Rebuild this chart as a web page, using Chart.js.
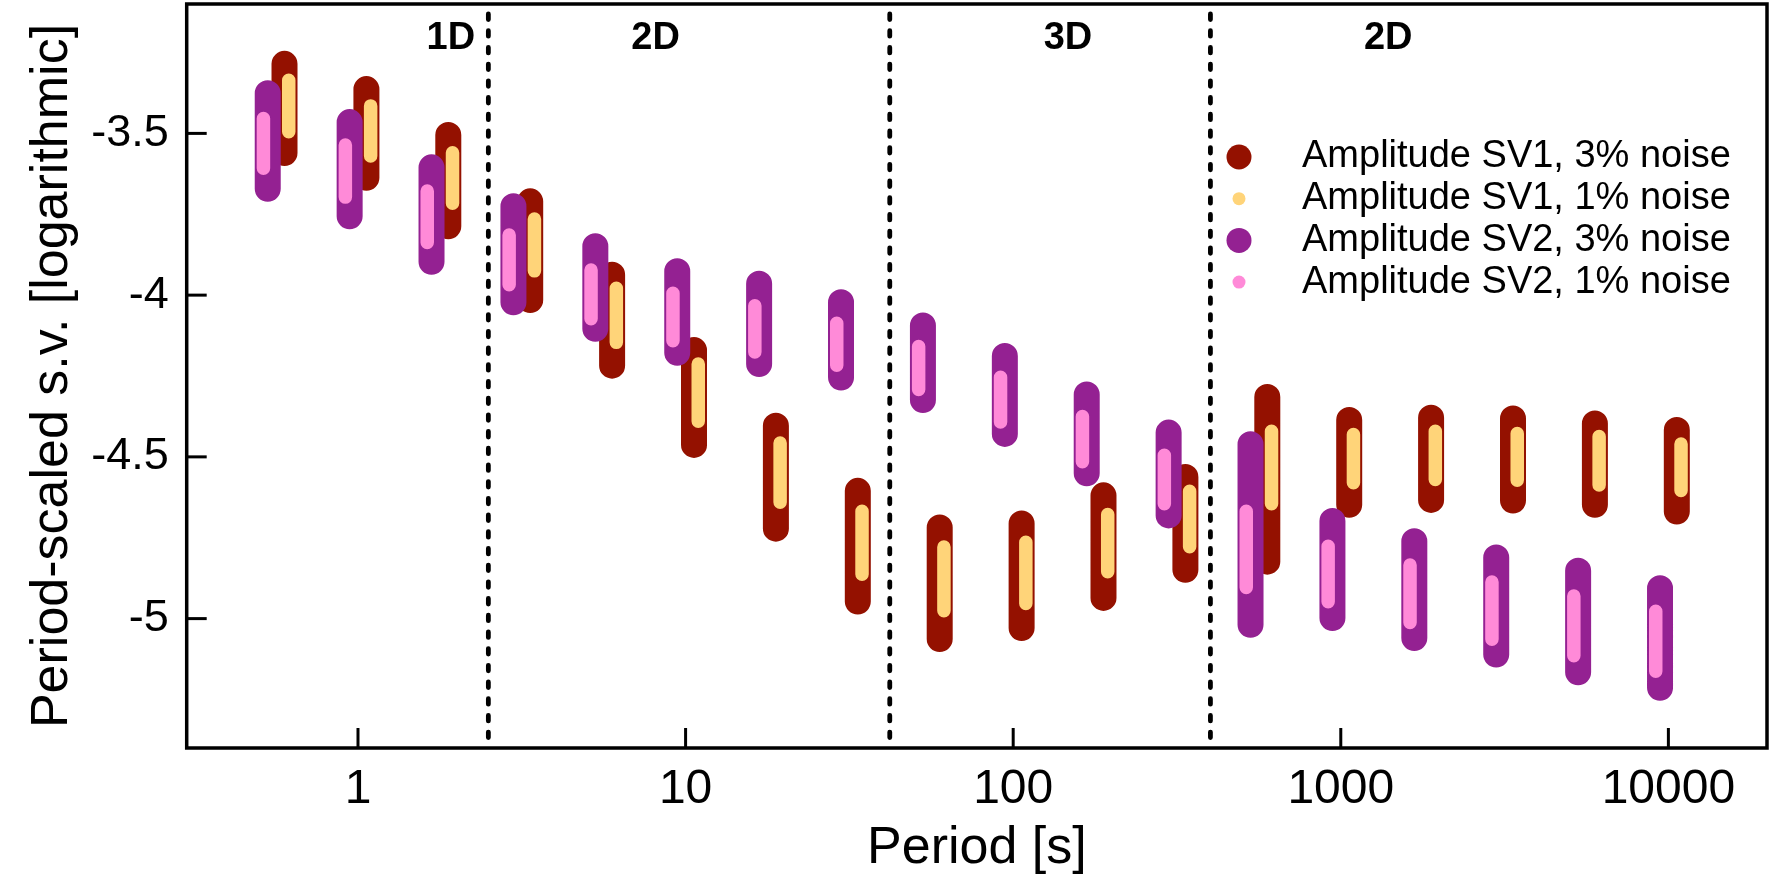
<!DOCTYPE html>
<html>
<head>
<meta charset="utf-8">
<script src="https://cdn.jsdelivr.net/npm/chart.js@4.4.1/dist/chart.umd.min.js"></script>
<style>
  html, body { margin: 0; padding: 0; background: #fff; }
  canvas { display: block; }
</style>
</head>
<body>
<canvas id="chart" width="1771" height="886"></canvas>
<script>
// periods of the 18 groups [s]
const periods = [0.5623, 1, 1.778, 3.162, 5.623, 10, 17.78, 31.62, 56.23, 100, 177.8, 316.2, 562.3, 1000, 1778, 3162, 5623, 10000];

// Amplitude SV1, 3% noise (range of the bar)
const sv1n3High = [-3.285, -3.363, -3.505, -3.710, -3.937, -4.170, -4.404, -4.605, -4.718, -4.706, -4.619, -4.562, -4.315, -4.386, -4.379, -4.381, -4.397, -4.417];
const sv1n3Low  = [-3.561, -3.637, -3.787, -4.015, -4.218, -4.463, -4.722, -4.947, -5.063, -5.029, -4.936, -4.849, -4.824, -4.648, -4.633, -4.635, -4.648, -4.669];
// Amplitude SV1, 1% noise
const sv1n1High = [-3.336, -3.415, -3.560, -3.765, -3.979, -4.213, -4.457, -4.668, -4.779, -4.764, -4.678, -4.606, -4.421, -4.431, -4.421, -4.428, -4.437, -4.460];
const sv1n1Low  = [-3.495, -3.570, -3.716, -3.925, -4.146, -4.390, -4.640, -4.863, -4.976, -4.953, -4.855, -4.778, -4.645, -4.580, -4.570, -4.572, -4.587, -4.604];
// Amplitude SV2, 3% noise
const sv2n3High = [-3.376, -3.465, -3.605, -3.725, -3.849, -3.926, -3.965, -4.022, -4.094, -4.188, -4.307, -4.425, -4.461, -4.698, -4.761, -4.811, -4.852, -4.906];
const sv2n3Low  = [-3.671, -3.756, -3.897, -4.022, -4.104, -4.178, -4.213, -4.255, -4.324, -4.429, -4.551, -4.681, -5.019, -4.998, -5.060, -5.111, -5.166, -5.214];
// Amplitude SV2, 1% noise
const sv2n1High = [-3.454, -3.536, -3.678, -3.814, -3.922, -3.994, -4.033, -4.087, -4.159, -4.254, -4.375, -4.495, -4.668, -4.776, -4.834, -4.887, -4.930, -4.977];
const sv2n1Low  = [-3.608, -3.697, -3.837, -3.968, -4.073, -4.141, -4.176, -4.217, -4.292, -4.392, -4.515, -4.645, -4.904, -4.948, -5.012, -5.064, -5.115, -5.163];

// dimensionality regions
const boundaries = [2.5, 42, 400];
const regionLabels = ['1D', '2D', '3D', '2D'];
const regionLabelX = [1.92, 8.1, 147, 1396];

const xTickLabels = [1, 10, 100, 1000, 10000];
const yTickLabels = [-3.5, -4, -4.5, -5];

const FONT = "'Liberation Sans', Arial, Helvetica, sans-serif";

// each bar is a vertical line segment, separated by a null point
function bars(shift, lows, highs) {
  const pts = [];
  periods.forEach((p, i) => {
    const x = p * shift;
    pts.push({x: x, y: lows[i]}, {x: x, y: highs[i]}, {x: x, y: null});
  });
  return pts;
}

function barSet(label, color, width, order, data) {
  return {
    label, data, order,
    showLine: true,
    borderColor: color,
    backgroundColor: color,
    borderWidth: width,
    borderCapStyle: 'round',
    borderJoinStyle: 'round',
    pointRadius: 0,
    pointHoverRadius: 0,
    spanGaps: false,
    fill: false
  };
}

const isPow10 = v => { const l = Math.log10(v); return Math.abs(l - Math.round(l)) < 1e-6; };
const isHalf = v => Math.abs(v * 2 - Math.round(v * 2)) < 1e-6;

const decor = {
  id: 'decor',
  beforeDatasetsDraw(chart) {
    const {ctx, chartArea: a, scales: {x}} = chart;
    ctx.save();
    ctx.strokeStyle = '#000';
    ctx.lineWidth = 4.8;
    ctx.lineCap = 'round';
    ctx.setLineDash([5.5, 11.2]);
    boundaries.forEach(b => {
      const px = x.getPixelForValue(b);
      ctx.beginPath();
      ctx.moveTo(px, a.top + 10);
      ctx.lineTo(px, a.bottom);
      ctx.stroke();
    });
    ctx.restore();
  },
  afterDatasetsDraw(chart) {
    const {ctx, chartArea: a, scales: {x, y}} = chart;
    ctx.save();
    ctx.strokeStyle = '#000';
    ctx.lineCap = 'butt';

    // inward ticks
    x.ticks.forEach(t => {
      const px = x.getPixelForValue(t.value);
      if (px <= a.left + 2 || px >= a.right - 2) return;
      const major = isPow10(t.value);
      ctx.lineWidth = major ? 3 : 2.2;
      ctx.beginPath();
      ctx.moveTo(px, a.bottom);
      ctx.lineTo(px, a.bottom - (major ? 20 : 10));
      ctx.stroke();
    });
    y.ticks.forEach(t => {
      const py = y.getPixelForValue(t.value);
      if (py <= a.top + 2 || py >= a.bottom - 2) return;
      const major = isHalf(t.value);
      ctx.lineWidth = major ? 3 : 2.2;
      ctx.beginPath();
      ctx.moveTo(a.left, py);
      ctx.lineTo(a.left + (major ? 20 : 9), py);
      ctx.stroke();
    });

    // frame
    ctx.lineWidth = 3.5;
    ctx.strokeRect(a.left, a.top, a.right - a.left, a.bottom - a.top);

    // region labels
    ctx.fillStyle = '#000';
    ctx.font = 'bold 38px ' + FONT;
    ctx.textAlign = 'center';
    ctx.textBaseline = 'alphabetic';
    regionLabels.forEach((txt, i) => {
      ctx.fillText(txt, x.getPixelForValue(regionLabelX[i]), a.top + 45);
    });

    // legend
    ctx.font = '38px ' + FONT;
    ctx.textAlign = 'left';
    ctx.textBaseline = 'middle';
    chart.data.datasets.forEach((ds, i) => {
      const cy = a.top + 153 + i * 41.7;
      const cx = a.right - 528;
      ctx.fillStyle = ds.borderColor;
      ctx.beginPath();
      ctx.arc(cx, cy, ds.borderWidth > 20 ? 12.5 : 6.5, 0, Math.PI * 2);
      ctx.fill();
      ctx.fillStyle = '#000';
      ctx.fillText(ds.label, a.right - 465, cy);
    });
    ctx.restore();
  }
};

new Chart(document.getElementById('chart'), {
  type: 'scatter',
  data: {
    datasets: [
      barSet('Amplitude SV1, 3% noise', '#941100', 26, 4, bars(1.061, sv1n3Low, sv1n3High)),
      barSet('Amplitude SV1, 1% noise', '#ffd479', 13.5, 3, bars(1.093, sv1n1Low, sv1n1High)),
      barSet('Amplitude SV2, 3% noise', '#942192', 26, 2, bars(0.943, sv2n3Low, sv2n3High)),
      barSet('Amplitude SV2, 1% noise', '#ff8ad8', 13.5, 1, bars(0.915, sv2n1Low, sv2n1High))
    ]
  },
  options: {
    responsive: false,
    animation: false,
    devicePixelRatio: 1,
    layout: { autoPadding: false, padding: { top: 4, right: 4, left: 0, bottom: 0 } },
    plugins: {
      legend: { display: false },
      tooltip: { enabled: false }
    },
    scales: {
      x: {
        type: 'logarithmic',
        min: 0.3,
        max: 20000,
        // ticks themselves are drawn inward by the decor plugin
        grid: { display: false, drawTicks: true, tickLength: 13 },
        border: { display: false },
        ticks: {
          autoSkip: false,
          maxRotation: 0,
          padding: 0,
          color: '#000',
          font: { family: FONT, size: 48 },
          callback: v => xTickLabels.some(t => Math.abs(t - v) < 1e-9) ? String(v) : null
        },
        title: {
          display: true,
          text: 'Period [s]',
          color: '#000',
          font: { family: FONT, size: 52, lineHeight: 1 },
          padding: { top: 0, bottom: 11 }
        },
        afterFit: s => { s.height = 138; s.paddingLeft = 0; s.paddingRight = 0; }
      },
      y: {
        type: 'linear',
        min: -5.4,
        max: -3.1,
        grid: { display: false, drawTicks: true, tickLength: 18 },
        border: { display: false },
        ticks: {
          stepSize: 0.1,
          autoSkip: false,
          padding: 0,
          color: '#000',
          font: { family: FONT, size: 45 },
          callback: v => yTickLabels.some(t => Math.abs(t - v) < 1e-6) ? String(Math.round(v * 10) / 10) : null
        },
        title: {
          display: true,
          text: 'Period-scaled s.v. [logarithmic]',
          color: '#000',
          font: { family: FONT, size: 52, lineHeight: 1 },
          padding: { top: 27, bottom: 0 }
        },
        afterFit: s => { s.width = 186.7; s.paddingTop = 0; s.paddingBottom = 0; }
      }
    }
  },
  plugins: [decor]
});
</script>
</body>
</html>
